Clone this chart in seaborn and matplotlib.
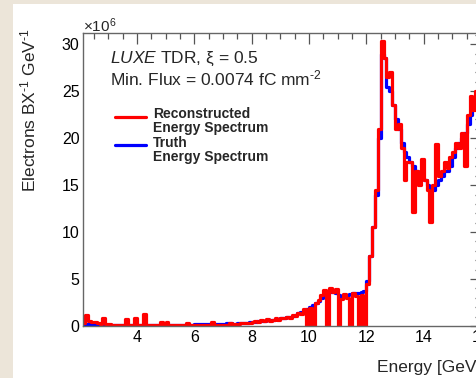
import numpy as np
import pandas as pd
import matplotlib
matplotlib.use("Agg")
import matplotlib.pyplot as plt
import seaborn as sns
from matplotlib.lines import Line2D
from matplotlib.legend_handler import HandlerLine2D
from matplotlib.patches import Rectangle
from matplotlib.ticker import MultipleLocator

# Energy binning [GeV]
bin_start = 2.1
bin_width = 0.1

# Electrons per BX per GeV, in units of 1e6, one value per 0.1 GeV bin
reconstructed = [
    # 2.1 - 2.9
    0.3, 1.2, 0.5, 0.4, 0.4, 0.3, 0.2, 0.9, 0.2,
    # 3.0 - 3.9
    0.2, 0.1, 0.1, 0.1, 0.1, 0.1, 0.7, 0.1, 0.1, 0.85,
    # 4.0 - 4.9
    0.1, 0.1, 1.3, 0.1, 0.1, 0.1, 0.1, 0.1, 0.4, 0.1,
    # 5.0 - 5.9
    0.4, 0.1, 0.1, 0.1, 0.1, 0.1, 0.1, 0.3, 0.1, 0.1,
    # 6.0 - 6.9
    0.1, 0.1, 0.1, 0.1, 0.1, 0.1, 0.4, 0.1, 0.1, 0.1,
    # 7.0 - 7.9
    0.1, 0.15, 0.35, 0.1, 0.2, 0.2, 0.3, 0.3, 0.3, 0.3,
    # 8.0 - 8.9
    0.4, 0.5, 0.4, 0.6, 0.5, 0.7, 0.5, 0.6, 0.8, 0.6,
    # 9.0 - 9.9
    0.8, 0.9, 1.0, 0.8, 1.2, 1.1, 1.4, 1.3, 1.8, 0.0,
    # 10.0 - 10.9
    1.9, 0.0, 2.4, 2.8, 3.3, 3.8, 0.0, 4.0, 3.6, 3.9,
    # 11.0 - 11.9
    0.0, 2.9, 3.4, 3.0, 0.0, 3.5, 3.2, 0.0, 3.3, 0.0,
    # 12.0 - 12.9
    4.5, 7.5, 10.5, 14.5, 21.0, 30.3, 28.5, 26.5, 27.0, 23.5,
    # 13.0 - 13.9
    21.0, 21.5, 19.0, 15.5, 17.5, 17.5, 12.1, 16.5, 15.0, 17.8,
    # 14.0 - 14.9
    15.5, 14.5, 11.1, 15.0, 19.4, 16.0, 16.5, 17.5, 16.8, 18.0,
    # 15.0 - 15.9
    18.5, 19.5, 19.0, 20.5, 17.0, 22.5, 24.5, 23.0, 25.0, 24.0,
    # 16.0
    25.0,
]

truth = [
    # 2.1 - 2.9
    0.2, 0.25, 0.25, 0.2, 0.2, 0.2, 0.2, 0.2, 0.15,
    # 3.0 - 3.9
    0.15, 0.15, 0.15, 0.15, 0.15, 0.15, 0.15, 0.15, 0.15, 0.15,
    # 4.0 - 4.9
    0.15, 0.15, 0.15, 0.15, 0.15, 0.15, 0.15, 0.15, 0.15, 0.15,
    # 5.0 - 5.9
    0.15, 0.15, 0.15, 0.15, 0.15, 0.15, 0.15, 0.15, 0.15, 0.15,
    # 6.0 - 6.9
    0.2, 0.2, 0.2, 0.2, 0.2, 0.2, 0.2, 0.2, 0.2, 0.2,
    # 7.0 - 7.9
    0.25, 0.3, 0.35, 0.25, 0.25, 0.3, 0.3, 0.35, 0.35, 0.4,
    # 8.0 - 8.9
    0.4, 0.45, 0.5, 0.5, 0.55, 0.6, 0.6, 0.65, 0.7, 0.75,
    # 9.0 - 9.9
    0.8, 0.9, 0.95, 1.0, 1.1, 1.2, 1.35, 1.5, 1.65, 1.8,
    # 10.0 - 10.9
    2.0, 2.2, 2.4, 2.7, 3.0, 3.3, 3.5, 3.6, 3.6, 3.5,
    # 11.0 - 11.9
    3.3, 3.2, 3.2, 3.3, 3.4, 3.5, 3.5, 3.5, 3.6, 3.7,
    # 12.0 - 12.9
    4.8, 7.5, 10.5, 14.0, 20.0, 29.0, 28.5, 25.5, 25.0, 23.5,
    # 13.0 - 13.9
    22.0, 21.0, 19.5, 18.5, 18.0, 17.5, 17.0, 16.5, 16.0, 15.8,
    # 14.0 - 14.9
    15.5, 15.0, 14.5, 14.5, 15.0, 15.5, 16.0, 16.5, 16.5, 17.0,
    # 15.0 - 15.9
    18.0, 19.0, 19.5, 20.0, 20.5, 21.5, 22.5, 23.5, 24.0, 24.5,
    # 16.0
    25.0,
]

series_labels = ["Reconstructed\nEnergy Spectrum", "Truth\nEnergy Spectrum"]
x_ticks = [4, 6, 8, 10, 12, 14, 16]
y_ticks = [0, 5, 10, 15, 20, 25, 30]

n_bins = len(reconstructed)
edges = list(bin_start + bin_width * np.arange(n_bins + 1))
centers = np.array(edges[:-1]) + bin_width / 2
df = pd.DataFrame({"energy": centers, "reco": reconstructed, "truth": truth})

sns.set_theme(style="white")
plt.rcParams["font.family"] = ["Liberation Sans", "DejaVu Sans"]
plt.rcParams["mathtext.fontset"] = "custom"
plt.rcParams["mathtext.rm"] = "Liberation Sans"
plt.rcParams["mathtext.it"] = "Liberation Sans:italic"
plt.rcParams["mathtext.bf"] = "Liberation Sans:bold"

W, H = 477, 378
fig = plt.figure(figsize=(W / 100, H / 100), dpi=100)
fig.patch.set_facecolor("#ece5d9")
fig.patches.append(Rectangle((13 / W, 0), 1, 1 - 4 / H, transform=fig.transFigure,
                             facecolor="white", edgecolor="none", zorder=-10))

ax_l, ax_r, ax_t, ax_b = 83, 481, 33, 326
ax = fig.add_axes([ax_l / W, 1 - ax_b / H, (ax_r - ax_l) / W, (ax_b - ax_t) / H])
ax.set_facecolor("white")

line_w = 2.3
sns.histplot(data=df, x="energy", weights="truth", bins=edges, element="step",
             fill=False, color="#0000ff", linewidth=line_w, ax=ax)
sns.histplot(data=df, x="energy", weights="reco", bins=edges, element="step",
             fill=False, color="#ff0000", linewidth=line_w, ax=ax)

ax.set_xlim(2.12, 16.0)
ax.set_ylim(0, 31.2)
ax.set_xticks(x_ticks)
ax.set_yticks(y_ticks)
ax.xaxis.set_minor_locator(MultipleLocator(0.5))
ax.yaxis.set_minor_locator(MultipleLocator(1))
ax.tick_params(which="both", direction="in", top=True, right=True,
               color="#555555", width=0.9, labelsize=11.5, labelcolor="black")
ax.tick_params(which="major", length=8)
ax.tick_params(which="minor", length=4.3)
ax.tick_params(axis="y", pad=2.5)
ax.tick_params(axis="x", pad=3)
for sp in ax.spines.values():
    sp.set_visible(True)
    sp.set_color("#666666")
    sp.set_linewidth(1.0)

hy = "\u2010"  # short hyphen used in the unit exponents
ax.set_xlabel("Energy [GeV]", fontsize=12.5, loc="right")
ax.xaxis.set_label_coords(1.0, -(360 - ax_b) / (ax_b - ax_t))
ax.set_ylabel(rf"Electrons BX$^{{{hy}1}}$ GeV$^{{{hy}1}}$", fontsize=12.5, loc="top")
ax.yaxis.set_label_coords(-(ax_l - 38) / (ax_r - ax_l), 1 + 5 / (ax_b - ax_t))

fig.text(83 / W, 1 - 32 / H, r"$\times$10$^{6}$", fontsize=11, va="baseline")
fig.text(110 / W, 1 - 50 / H,
         r"$\mathit{LUXE}$ TDR, ξ = 0.5" + "\n" + rf"Min. Flux = 0.0074 fC mm$^{{{hy}2}}$",
         fontsize=12.5, va="top", linespacing=1.0)


class RaisedLineHandler(HandlerLine2D):
    """Legend line sitting level with the first line of a two-line label."""

    def __init__(self, raise_pt=3.5, **kw):
        super().__init__(**kw)
        self.raise_pt = raise_pt

    def create_artists(self, legend, orig_handle, xdescent, ydescent, width,
                       height, fontsize, trans):
        artists = super().create_artists(legend, orig_handle, xdescent, ydescent,
                                         width, height, fontsize, trans)
        for a in artists:
            a.set_ydata(np.asarray(a.get_ydata()) + self.raise_pt)
        return artists


handles = [Line2D([], [], color="#ff0000", lw=line_w),
           Line2D([], [], color="#0000ff", lw=line_w)]
leg = ax.legend(handles, series_labels, loc="upper left",
                bbox_to_anchor=((115 - ax_l) / (ax_r - ax_l), (ax_b - 107) / (ax_b - ax_t)),
                frameon=False, prop={"weight": "bold", "size": 10},
                handlelength=2.2, handletextpad=0.55, labelspacing=0.05,
                borderaxespad=0, borderpad=0,
                handler_map={Line2D: RaisedLineHandler()})
for t in leg.get_texts():
    t.set_linespacing(1.0)

fig.savefig("out.png", dpi=100, facecolor=fig.get_facecolor())
